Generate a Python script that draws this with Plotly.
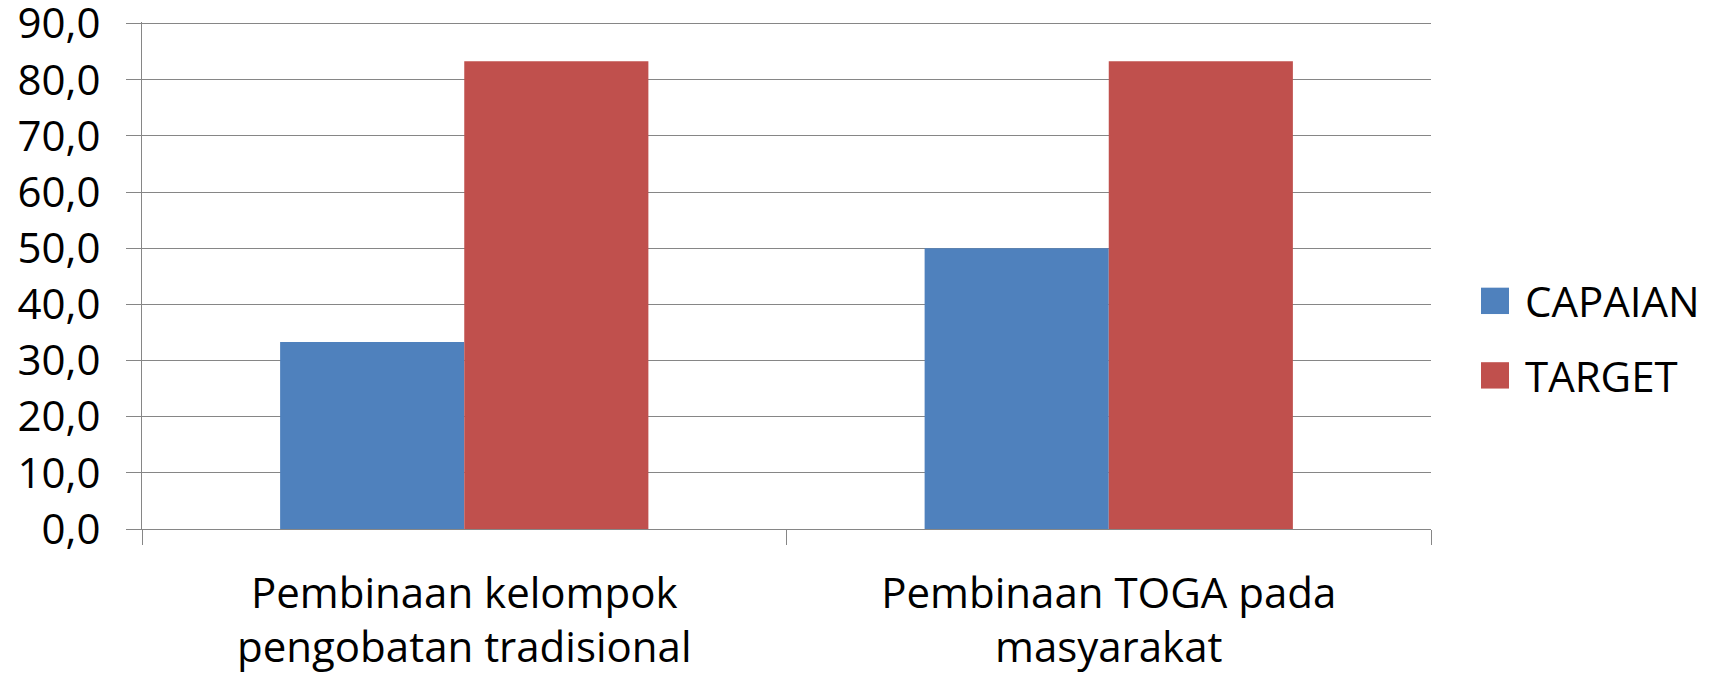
import plotly.graph_objects as go

categories = ["Pembinaan kelompok<br>pengobatan tradisional", "Pembinaan TOGA pada<br>masyarakat"]
series_names = ["CAPAIAN", "TARGET"]
capaian = [33.3, 50.0]
target = [83.3, 83.3]
y_ticks = [0, 10, 20, 30, 40, 50, 60, 70, 80, 90]

colors = ["#4F81BD", "#C0504D"]
grid = "#868686"
font_family = "Open Sans"
fsize = 42

fig = go.Figure()
for name, vals, col in zip(series_names, [capaian, target], colors):
    fig.add_trace(go.Bar(x=categories, y=vals, name=name, marker_color=col,
                         marker_line_width=0))

# legend drawn by hand so the swatches can be as big as in the original
for i, (name, col) in enumerate(zip(series_names, colors)):
    yc = 0.45 - i * 0.147
    fig.add_shape(type="rect", xref="paper", yref="paper",
                  x0=1.0388, x1=1.0605, y0=yc - 0.026, y1=yc + 0.026,
                  fillcolor=col, line_width=0)
    fig.add_annotation(xref="paper", yref="paper", x=1.0714, y=yc,
                       xanchor="left", yanchor="middle", text=name,
                       showarrow=False, font=dict(size=fsize))

fig.update_layout(
    width=1711,
    height=675,
    margin=dict(l=142, r=280, t=22, b=146),
    barmode="group",
    bargap=0.4286,
    bargroupgap=0,
    showlegend=False,
    plot_bgcolor="white",
    paper_bgcolor="white",
    separators=",.",
    font=dict(family=font_family, size=fsize, color="black"),
)
fig.update_yaxes(
    range=[0, 90.3],
    tickvals=y_ticks,
    tickformat=".1f",
    ticklabelstandoff=17,
    ticklabeloverflow="allow",
    showgrid=True,
    gridcolor=grid,
    gridwidth=1.3,
    showline=True,
    linecolor=grid,
    linewidth=1.3,
    ticks="outside",
    ticklen=15,
    tickcolor=grid,
    tickwidth=1.3,
    zeroline=False,
    automargin=False,
)
fig.update_xaxes(
    showline=True,
    linecolor=grid,
    linewidth=1.3,
    ticks="outside",
    tickson="boundaries",
    ticklen=15,
    tickcolor=grid,
    tickwidth=1.3,
    ticklabelstandoff=27,
    showgrid=False,
    automargin=False,
)

# drop the browser's default body margin so the figure sits at the page corner
fig.write_html("out.html", config={"displayModeBar": False},
               post_script="document.body.style.margin='0';")
